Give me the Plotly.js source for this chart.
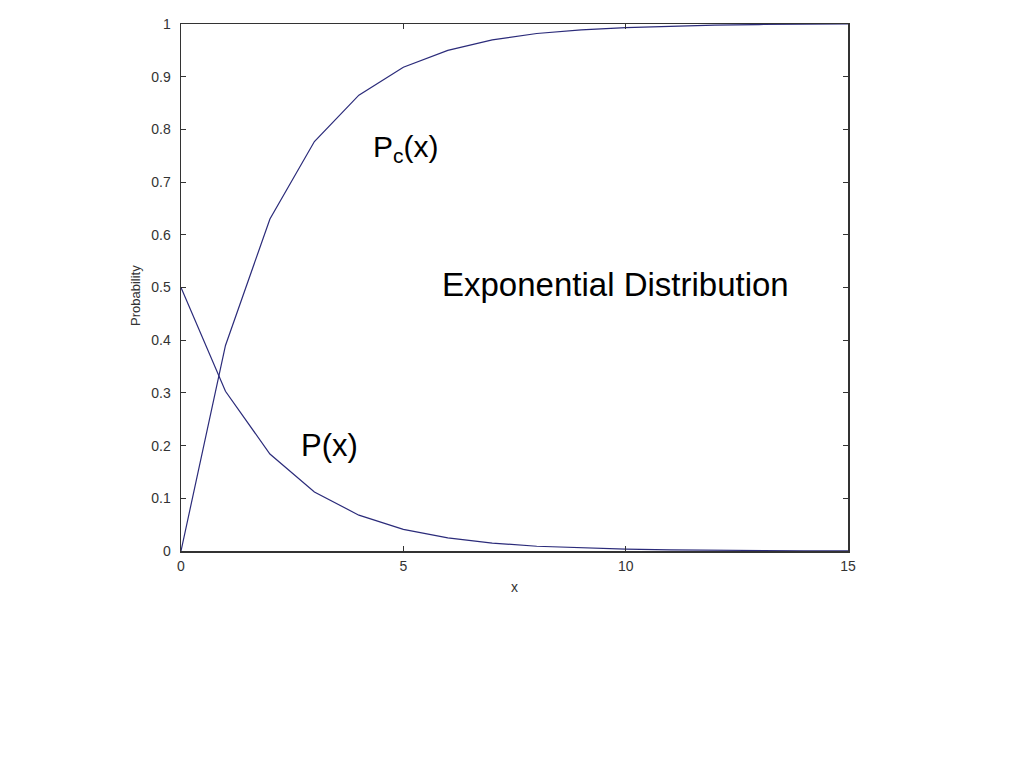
<!DOCTYPE html>
<html>
<head>
<meta charset="utf-8">
<script src="https://cdn.plot.ly/plotly-3.0.1.min.js"></script>
<style>html,body{margin:0;padding:0;background:#fff;}#chart{width:1024px;height:768px;}</style>
</head>
<body>
<div id="chart"></div>
<script>
const xValues = [0, 1, 2, 3, 4, 5, 6, 7, 8, 9, 10, 11, 12, 13, 14, 15];
const pcValues = [0, 0.39, 0.63, 0.777, 0.865, 0.918, 0.95, 0.97, 0.982, 0.989, 0.993, 0.996, 0.998, 0.999, 0.999, 1.0];
const pValues = [0.5, 0.303, 0.184, 0.112, 0.068, 0.041, 0.025, 0.015, 0.009, 0.0055, 0.0034, 0.002, 0.0012, 0.0008, 0.0005, 0.0003];
const xTicks = [0, 5, 10, 15];
const yTicks = [0, 0.1, 0.2, 0.3, 0.4, 0.5, 0.6, 0.7, 0.8, 0.9, 1];

const lineColor = '#2b2b7a';
const traces = [
  {x: xValues, y: pcValues, mode: 'lines', line: {color: lineColor, width: 1.2}, hoverinfo: 'skip'},
  {x: xValues, y: pValues, mode: 'lines', line: {color: lineColor, width: 1.2}, hoverinfo: 'skip'}
];

const fam = 'Liberation Sans, Arial, sans-serif';
const tickFont = {family: fam, size: 14, color: '#333'};
const layout = {
  width: 1024, height: 768,
  margin: {l: 181, r: 176, t: 24, b: 217},
  paper_bgcolor: '#fff', plot_bgcolor: '#fff',
  showlegend: false,
  xaxis: {
    range: [0, 15], tickvals: xTicks, ticktext: xTicks.map(String),
    ticks: 'inside', ticklen: 5, tickcolor: '#333', mirror: 'ticks',
    showline: true, linecolor: '#333', linewidth: 1.5,
    showgrid: false, zeroline: false, tickfont: tickFont,
    ticklabelstandoff: 2
  },
  yaxis: {
    range: [0, 1], tickvals: yTicks, ticktext: yTicks.map(String),
    ticks: 'inside', ticklen: 5, tickcolor: '#333', mirror: 'ticks',
    showline: true, linecolor: '#333', linewidth: 1.5,
    showgrid: false, zeroline: false, tickfont: tickFont,
    ticklabelstandoff: 6
  },
  annotations: [
    {x: 0.5, y: 0, xref: 'paper', yref: 'paper', yshift: -46, text: 'x', showarrow: false,
     font: {family: fam, size: 14, color: '#333'}},
    {x: 0, y: 0.5, xref: 'paper', yref: 'paper', xshift: -55, yshift: -8, text: 'Probability', textangle: -90, showarrow: false,
     font: {family: fam, size: 13, color: '#333'}},
    {x: 5.05, y: 0.763, xref: 'x', yref: 'y', text: 'P<sub>c</sub>(x)', showarrow: false,
     font: {family: fam, size: 30, color: '#000'}},
    {x: 3.35, y: 0.2, xref: 'x', yref: 'y', text: 'P(x)', showarrow: false,
     font: {family: fam, size: 31, color: '#000'}},
    {x: 9.78, y: 0.506, xref: 'x', yref: 'y', text: 'Exponential Distribution', showarrow: false,
     font: {family: fam, size: 33, color: '#000'}}
  ]
};
Plotly.newPlot('chart', traces, layout, {staticPlot: true, displayModeBar: false});
</script>
</body>
</html>
